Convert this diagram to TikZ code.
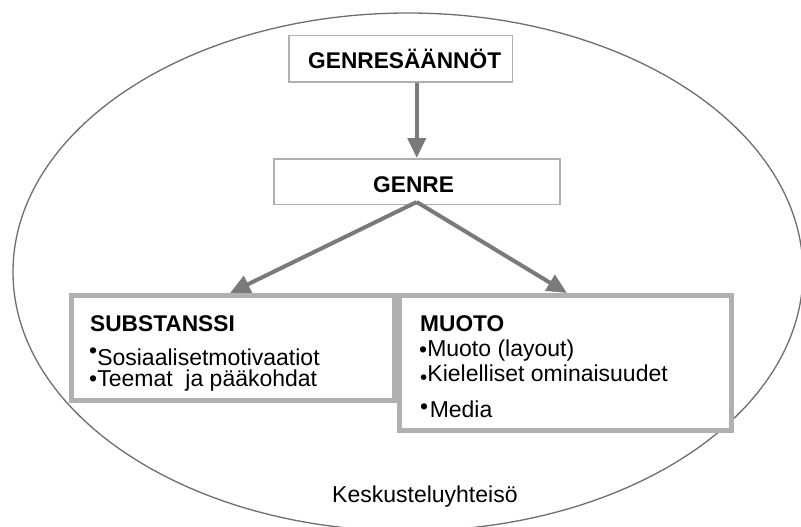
\documentclass[tikz,border=0pt]{standalone}
\usepackage{fontspec}
\setmainfont{Liberation Sans}
\usetikzlibrary{arrows.meta}
\definecolor{ellcol}{HTML}{6E6E6E}
\definecolor{boxcol}{HTML}{B0B0B0}
\definecolor{arrcol}{HTML}{7A7A7A}
\tikzset{
  thinbox/.style={draw=boxcol, line width=1.5pt, fill=white, inner sep=0pt},
  thickbox/.style={draw=boxcol, line width=5pt, fill=white, inner sep=0pt},
  boldtxt/.style={inner sep=0pt, anchor=base west, font=\fontsize{22.7}{27}\selectfont\bfseries},
  bodytxt/.style={inner sep=0pt, anchor=base west, font=\fontsize{23}{27}\selectfont},
  arr/.style={draw=arrcol, line width=4pt, -{Triangle[length=20pt,width=18pt]}, fill=arrcol},
}
\begin{document}
\begin{tikzpicture}[x=1pt,y=-1pt]
\useasboundingbox (0,0) rectangle (801,527);
\clip (0,0) rectangle (801,527);
\fill[white] (0,0) rectangle (801,527);
% community ellipse
\draw[ellcol, line width=1.3pt] (408,272) ellipse [x radius=395pt, y radius=259pt];
% boxes
\node[thinbox, minimum width=223.5pt, minimum height=46.5pt] (gr) at (400.5,59) {};
\node[thinbox, minimum width=286pt, minimum height=45.5pt] (genre) at (416.75,181.5) {};
\node[thickbox, minimum width=323pt, minimum height=105pt] (subst) at (233,348) {};
\node[thickbox, minimum width=332pt, minimum height=135pt] (muoto) at (565.5,363) {};
% texts
\node[boldtxt] (grt) at (308,69) {GENRESÄÄNNÖT};
\node[boldtxt] (genret) at (373,192) {GENRE};
\node[boldtxt] (substt) at (90,331) {SUBSTANSSI};
\node[bodytxt] (s1) at (89,365.5) {\raisebox{7pt}{•}Sosiaalisetmotivaatiot};
\node[bodytxt] (s2) at (89,386) {•Teemat\ \ ja pääkohdat};
\node[boldtxt] (muotot) at (420,331) {MUOTO};
\node[bodytxt] (m1) at (419,356) {\raisebox{-1pt}{•}Muoto (layout)};
\node[bodytxt] (m2) at (420,381.5) {\raisebox{-3pt}{\scalebox{0.9}{•}}Kielelliset ominaisuudet};
\node[bodytxt] (m3) at (420,417.5) {\raisebox{3pt}{•}\hspace{1.5pt}Media};
\node[bodytxt] (kesk) at (332,502.5) {Keskusteluyhteisö};
% arrows
\draw[arr] (gr.south -| genre.north) -- (genre.north);
\draw[arr] ([yshift=3pt]genre.south) -- ([xshift=-3pt]subst.north);
\draw[arr] ([yshift=3pt]genre.south) -- ([xshift=1.5pt]muoto.north);
\end{tikzpicture}
\end{document}
